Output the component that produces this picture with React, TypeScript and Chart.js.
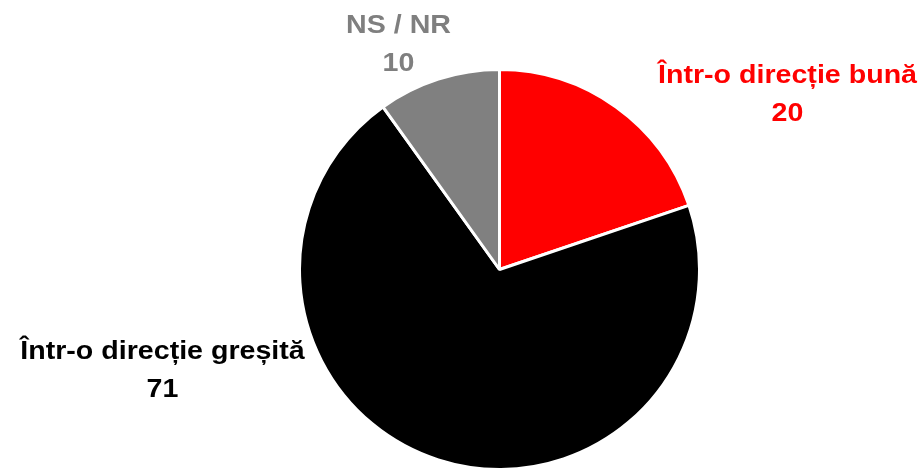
import React, { useEffect, useRef } from "react";
import { Chart, registerables } from "chart.js";

Chart.register(...registerables);

const categories = ["Într-o direcție bună", "Într-o direcție greșită", "NS / NR"];
const values = [20, 71, 10];
const sliceColors = ["#FF0000", "#000000", "#808080"];
const labelColors = ["#FF0000", "#000000", "#7F7F7F"];

// label anchor offsets relative to the pie centre (layout, not data)
const labelOffsets = [
  { dx: 288, dy: -187 },
  { dx: -337, dy: 89 },
  { dx: -101, dy: -237 },
];

const labelPlugin = {
  id: "sliceLabels",
  afterDraw(chart: any) {
    const meta = chart.getDatasetMeta(0);
    const ctx = chart.ctx;
    ctx.save();
    ctx.font = "bold 26px 'Liberation Sans', Arial, sans-serif";
    ctx.textAlign = "center";
    ctx.textBaseline = "alphabetic";
    meta.data.forEach((arc: any, i: number) => {
      const off = labelOffsets[i];
      const cx = arc.x + off.dx;
      const cy = arc.y + off.dy;
      ctx.fillStyle = labelColors[i];
      const lines = [categories[i], String(values[i])];
      lines.forEach((t, j) => {
        ctx.save();
        ctx.translate(cx, cy + j * 38);
        ctx.scale(1.1, 1);
        ctx.fillText(t, 0, 0);
        ctx.restore();
      });
    });
    ctx.restore();
  },
};

export default function App() {
  const ref = useRef<HTMLCanvasElement | null>(null);
  useEffect(() => {
    if (!ref.current) return;
    const chart = new Chart(ref.current, {
      type: "pie",
      data: {
        labels: categories,
        datasets: [
          {
            data: values,
            backgroundColor: sliceColors,
            borderColor: "#FFFFFF",
            borderWidth: 3,
          },
        ],
      },
      options: {
        animation: false,
        responsive: false,
        maintainAspectRatio: false,
        layout: { padding: { top: 68, bottom: 0, left: 298, right: 223 } },
        plugins: {
          legend: { display: false },
          tooltip: { enabled: false },
        },
      },
      plugins: [labelPlugin],
    });
    return () => chart.destroy();
  }, []);
  return (
    <div style={{ position: "absolute", left: 0, top: 0, width: 924, height: 471, background: "#fff" }}>
      <canvas ref={ref} width={924} height={471} style={{ width: 924, height: 471, display: "block" }} />
    </div>
  );
}
